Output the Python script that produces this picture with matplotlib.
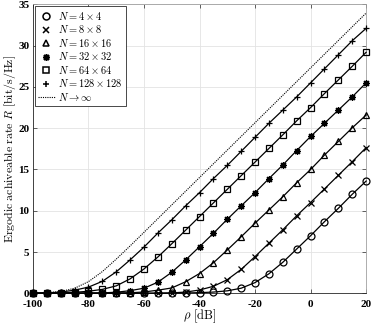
import numpy as np
import matplotlib
matplotlib.use("Agg")
import matplotlib.pyplot as plt
from matplotlib.lines import Line2D

plt.rcParams["mathtext.fontset"] = "cm"
plt.rcParams["axes.unicode_minus"] = False

rho_db = [-100, -95, -90, -85, -80, -75, -70, -65, -60, -55, -50, -45, -40,
          -35, -30, -25, -20, -15, -10, -5, 0, 5, 10, 15, 20]

# ergodic achievable rate [bit/s/Hz]
r_4 = [0, 0, 0, 0, 0, 0, 0, 0, 0, 0.01, 0.02, 0.04, 0.08,
       0.15, 0.3, 0.62, 1.3, 2.37, 3.76, 5.37, 6.98, 8.68, 10.3, 12.0, 13.6]
r_8 = [0, 0, 0, 0, 0, 0, 0.01, 0.01, 0.01, 0.02, 0.05, 0.15, 0.4,
       0.85, 1.65, 2.9, 4.45, 6.08, 7.7, 9.4, 11.0, 12.65, 14.3, 15.95, 17.65]
r_16 = [0, 0, 0, 0.01, 0.01, 0.02, 0.03, 0.06, 0.16, 0.38, 0.65, 1.4, 2.4,
        3.7, 5.25, 6.85, 8.5, 10.1, 11.7, 13.4, 15.0, 16.75, 18.4, 20.05, 21.6]
r_32 = [0, 0, 0, 0.01, 0.02, 0.05, 0.13, 0.32, 0.62, 1.35, 2.55, 4.04, 5.65,
        7.27, 8.97, 10.6, 12.2, 13.9, 15.55, 17.3, 19.0, 20.6, 22.2, 23.8, 25.5]
r_64 = [0.01, 0.02, 0.05, 0.12, 0.25, 0.48, 0.9, 1.75, 2.95, 4.4, 6.0, 7.65, 9.3,
        10.95, 12.6, 14.25, 15.9, 17.55, 19.2, 20.9, 22.5, 24.2, 25.85, 27.5, 29.2]
r_128 = [0.02, 0.05, 0.15, 0.38, 0.75, 1.45, 2.6, 4.05, 5.6, 7.3, 8.9, 10.6, 12.2,
         13.9, 15.5, 17.2, 18.9, 20.6, 22.2, 23.8, 25.5, 27.2, 28.9, 30.6, 32.1]
r_inf = [0.02, 0.07, 0.22, 0.61, 1.41, 2.63, 4.14, 5.74, 7.39, 9.05, 10.71, 12.37, 14.03,
         15.69, 17.35, 19.01, 20.67, 22.33, 23.99, 25.65, 27.31, 28.97, 30.63, 32.29, 33.95]

labels = [r"$N=4\times4$", r"$N=8\times8$", r"$N=16\times16$",
          r"$N=32\times32$", r"$N=64\times64$", r"$N=128\times128$"]
markers = ["o", "x", "^", (8, 2, 0), "s", "+"]
series = [r_4, r_8, r_16, r_32, r_64, r_128]

fig = plt.figure(figsize=(3.74, 3.25), dpi=100)
ax = fig.add_axes([0.088, 0.0975, 0.891, 0.889])

handles = []
for y, m, lab in zip(series, markers, labels):
    ax.plot(rho_db, y, color="k", lw=0.9, marker=m, ms=5, mfc="none",
            mec="k", mew=0.9, clip_on=False, zorder=3)
    handles.append(Line2D([], [], ls="none", marker=m, ms=5, mfc="none",
                          mec="k", mew=1.1, color="k", label=lab))

ax.plot(rho_db, r_inf, color="k", lw=0.8, ls=(0, (1, 1)), zorder=3)
handles.append(Line2D([], [], color="k", lw=0.8, ls=(0, (1, 1)),
                      label=r"$N\rightarrow\infty$"))

ax.set_xlim(-100, 20)
ax.set_ylim(0, 35)
ax.set_xticks(np.arange(-100, 21, 20))
ax.set_yticks(np.arange(0, 36, 5))
ax.grid(True, color="#e3e3e3", lw=0.6)
ax.set_axisbelow(True)
ax.tick_params(direction="in", length=3, width=0.5, colors="#262626",
               top=True, right=True)
ax.tick_params(axis="x", pad=4.5)
ax.tick_params(axis="y", pad=2.5)
for lab in ax.get_xticklabels() + ax.get_yticklabels():
    lab.set_fontfamily("Liberation Serif")
    lab.set_fontweight("bold")
    lab.set_fontsize(8)
    lab.set_color("k")
for s in ["left", "bottom"]:
    ax.spines[s].set_color("#262626")
    ax.spines[s].set_linewidth(0.6)
for s in ["top", "right"]:
    ax.spines[s].set_color("#a0a0a0")
    ax.spines[s].set_linewidth(0.6)

ax.set_xlabel(r"$\rho\ \mathrm{[dB]}$", fontsize=9)
ax.set_ylabel(r"$\mathrm{Ergodic\ achiveable\ rate}\ R\ \mathrm{[bit/s/Hz]}$",
              fontsize=8.5)
ax.xaxis.set_label_coords(0.5, -0.05)
ax.yaxis.set_label_coords(-0.046, 0.5)

leg = ax.legend(handles=handles, loc="upper left", fontsize=7.5,
                fancybox=False, framealpha=1, edgecolor="k",
                borderaxespad=0.2, handlelength=1.6, handletextpad=0.3,
                labelspacing=0.15, borderpad=0.3)
leg.get_frame().set_linewidth(0.5)

fig.savefig("out.png", dpi=100)
